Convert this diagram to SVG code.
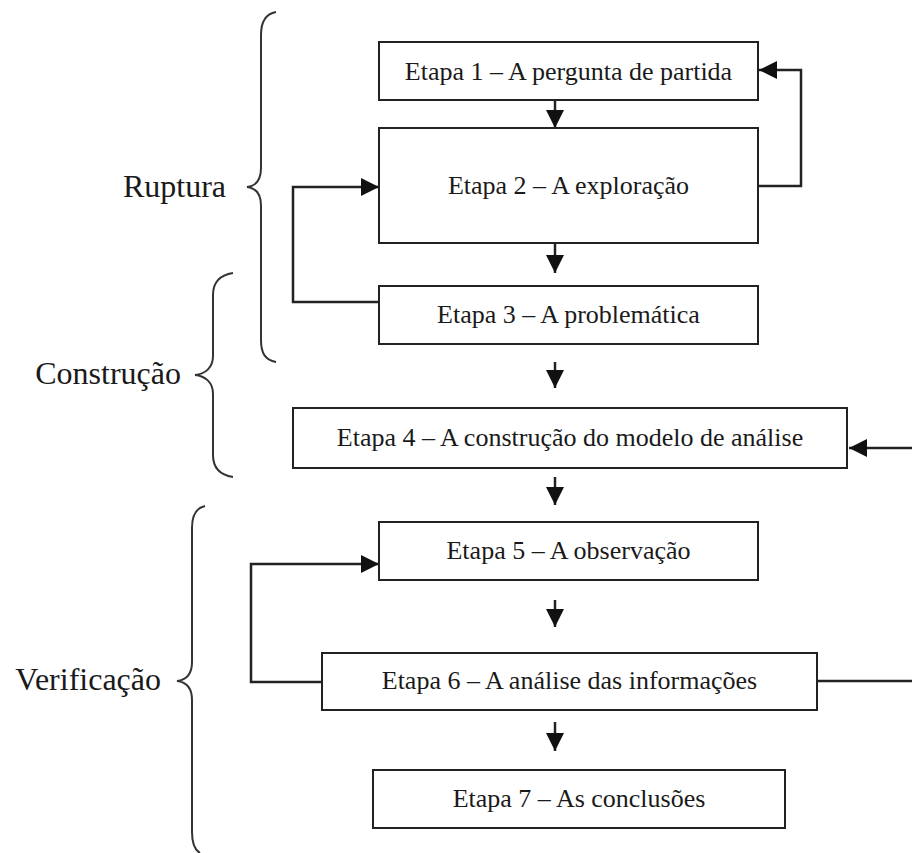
<svg xmlns="http://www.w3.org/2000/svg" width="912" height="853" viewBox="0 0 912 853">
<style>
.box{fill:#fff;stroke:#222;stroke-width:2}
.t{font-family:'Liberation Serif',serif;font-size:26px;fill:#1a1a1a;text-anchor:middle}
.lbl{font-family:'Liberation Serif',serif;font-size:32px;fill:#1a1a1a;text-anchor:end}
.brace{fill:none;stroke:#333;stroke-width:2}
.c{fill:none;stroke:#222;stroke-width:2.5}
</style>
<defs>
<marker id="ah" markerUnits="userSpaceOnUse" markerWidth="18" markerHeight="18" refX="18" refY="9" orient="auto">
<path d="M0,0 L18,9 L0,18 z" fill="#111"/>
</marker>
</defs>
<rect width="912" height="853" fill="#fff"/>
<g id="braces">
<path class="brace" d="M276,12 C265,14 261,22 261,35 L261,168 C261,180 256,186 247,187 C256,188 261,194 261,206 L261,340 C261,353 265,360 276,362"/>
<path class="brace" d="M233,273 C220,275 213,282 213,295 L213,356 C213,368 205,374 195,375 C205,376 213,382 213,394 L213,455 C213,468 220,475 233,477"/>
<path class="brace" d="M205,506 C196,508 192,515 192,528 L192,662 C192,674 186,680 177,681 C186,682 192,688 192,700 L192,832 C192,844 195,850 200,853"/>
</g>
<g id="labels">
<text class="lbl" x="226" y="197">Ruptura</text>
<text class="lbl" x="181" y="384">Construção</text>
<text class="lbl" x="161" y="690">Verificação</text>
</g>
<g id="connectors">
<line class="c" x1="555" y1="100" x2="555" y2="128" marker-end="url(#ah)"/>
<line class="c" x1="555" y1="243" x2="555" y2="273" marker-end="url(#ah)"/>
<line class="c" x1="555" y1="362" x2="555" y2="388" marker-end="url(#ah)"/>
<line class="c" x1="555" y1="477" x2="555" y2="505" marker-end="url(#ah)"/>
<line class="c" x1="555" y1="600" x2="555" y2="627" marker-end="url(#ah)"/>
<line class="c" x1="555" y1="722" x2="555" y2="751" marker-end="url(#ah)"/>
<polyline class="c" points="758,186 801,186 801,70 759,70" marker-end="url(#ah)"/>
<polyline class="c" points="379,302 293,302 293,187 379,187" marker-end="url(#ah)"/>
<polyline class="c" points="322,682 251,682 251,564 379,564" marker-end="url(#ah)"/>
<line class="c" x1="912" y1="448" x2="849" y2="448" marker-end="url(#ah)"/>
<line class="c" x1="817" y1="681" x2="912" y2="681"/>
</g>
<g id="etapa1"><rect class="box" x="379" y="42" width="379" height="58"/><text class="t" x="568.5" y="80">Etapa 1 – A pergunta de partida</text></g>
<g id="etapa2"><rect class="box" x="379" y="128" width="379" height="115"/><text class="t" x="568.5" y="194">Etapa 2 – A exploração</text></g>
<g id="etapa3"><rect class="box" x="379" y="286" width="379" height="58"/><text class="t" x="568.5" y="323">Etapa 3 – A problemática</text></g>
<g id="etapa4"><rect class="box" x="293" y="408" width="554" height="60"/><text class="t" x="570" y="446">Etapa 4 – A construção do modelo de análise</text></g>
<g id="etapa5"><rect class="box" x="379" y="522" width="379" height="58"/><text class="t" x="568.5" y="559">Etapa 5 – A observação</text></g>
<g id="etapa6"><rect class="box" x="322" y="653" width="495" height="57"/><text class="t" x="569.5" y="689">Etapa 6 – A análise das informações</text></g>
<g id="etapa7"><rect class="box" x="373" y="770" width="412" height="58"/><text class="t" x="579" y="807">Etapa 7 – As conclusões</text></g>
</svg>
